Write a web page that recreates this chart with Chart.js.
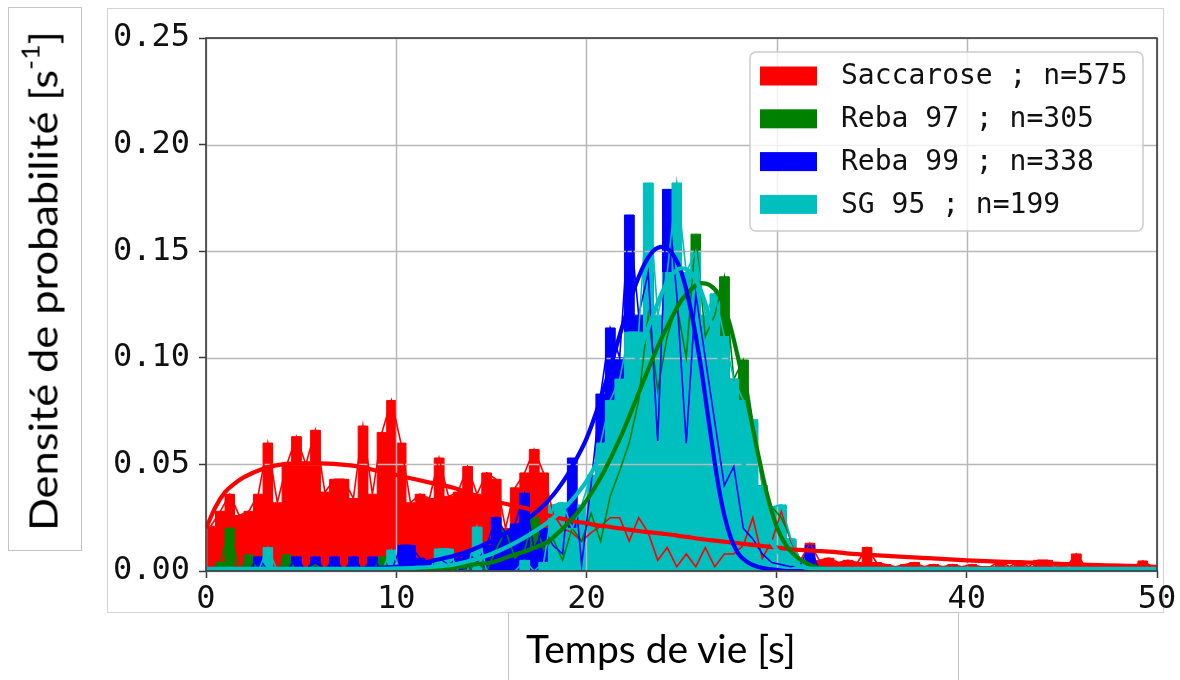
<!DOCTYPE html>
<html>
<head>
<meta charset="utf-8">
<script src="https://cdn.jsdelivr.net/npm/chart.js@4.4.1/dist/chart.umd.min.js"></script>
<style>
  html, body { margin: 0; padding: 0; background: #fff; }
  #wrap { position: relative; width: 1180px; height: 680px; overflow: hidden; }
  #chart { position: absolute; left: 0; top: 0; }
  .box { position: absolute; box-sizing: border-box; pointer-events: none; }
  #figframe { left: 107px; top: 8px; width: 1057px; height: 605px; border: 1px solid #d4d4d4; }
  #ylabbox { left: 8px; top: 7px; width: 74px; height: 544px; border: 1px solid #c4c4c4; }
  #xlabbox { left: 508px; top: 612px; width: 451px; height: 70px; border: 1px solid #c4c4c4; border-bottom: none; }
  .axlabel { position: absolute; font-family: Lato, "Open Sans", sans-serif; font-size: 39px; line-height: 1; color: #000; white-space: nowrap; }
  .axlabel sup { font-size: 0.62em; vertical-align: 0.75em; line-height: 0; }
  #ylab { left: 43px; top: 281px; transform: translate(-50%, -50%) rotate(-90deg) scaleX(1.11); }
  #xlab { left: 526px; top: 629px; }
</style>
</head>
<body>
<div id="wrap">
  <div class="box" id="figframe"></div>
  <div class="box" id="ylabbox"></div>
  <div class="box" id="xlabbox"></div>
  <canvas id="chart" width="1180" height="680"></canvas>
  <div class="axlabel" id="ylab">Densité de probabilité [s<sup>-1</sup>]</div>
  <div class="axlabel" id="xlab">Temps de vie [s]</div>
</div>
<script>
// Histogram bin width (s); every series is binned from t = 0
const binWidth = 0.5;

const seriesNames = ['Saccarose', 'Reba 97', 'Reba 99', 'SG 95'];
const seriesCounts = [575, 305, 338, 199];
const seriesColors = ['#ff0000', '#008000', '#0000ff', '#00bfbf'];

// Probability density per bin (s^-1)
const saccaroseHist = [
  0.021, 0.028, 0.036, 0.026, 0.028, 0.036, 0.060, 0.032, 0.050, 0.063,
  0.050, 0.066, 0.037, 0.043, 0.043, 0.034, 0.068, 0.036, 0.065, 0.080,
  0.060, 0.032, 0.036, 0.034, 0.053, 0.035, 0.037, 0.049, 0.036, 0.046,
  0.043, 0.020, 0.039, 0.046, 0.057, 0.046, 0.027, 0.020, 0.018, 0.014,
  0.018, 0.021, 0.025, 0.025, 0.014, 0.025, 0.018, 0.005, 0.011, 0.002,
  0.008, 0.002, 0.011, 0.002, 0.008, 0.008, 0.012, 0.025, 0.006, 0.014,
  0.028, 0.014, 0.005, 0.013, 0.005, 0.006, 0.004, 0.005, 0.004, 0.011,
  0.004, 0.003, 0.002, 0.003, 0.004, 0.002, 0.003, 0.002, 0.003, 0.002,
  0.003, 0.002, 0.002, 0.0047, 0.002, 0.0047, 0.002, 0.005, 0.005, 0.002,
  0.002, 0.008, 0.002, 0.002, 0.0015, 0.002, 0.0015, 0.002, 0.0047, 0.002
];
const reba97Hist = [
  0, 0.004, 0.020, 0, 0.0075, 0, 0, 0, 0.0075, 0,
  0, 0.003, 0, 0, 0, 0, 0, 0, 0.0066, 0,
  0, 0, 0, 0, 0.003, 0, 0.003, 0, 0.004, 0,
  0.010, 0.019, 0.006, 0.010, 0.025, 0.010, 0.015, 0.005, 0.020, 0.014,
  0.027, 0.014, 0.035, 0.047, 0.060, 0.080, 0.120, 0.085, 0.110, 0.125,
  0.100, 0.158, 0.110, 0.120, 0.138, 0.090, 0.099, 0.070, 0.040, 0.030,
  0.025, 0.015, 0.005, 0.003, 0.002, 0
];
const reba99Hist = [
  0, 0, 0, 0, 0, 0.0066, 0, 0, 0, 0.0066,
  0, 0.0066, 0, 0.0066, 0, 0.0066, 0, 0.0066, 0, 0,
  0.012, 0.012, 0.006, 0.003, 0.006, 0.003, 0.006, 0.009, 0.004, 0.012,
  0.025, 0.018, 0.022, 0.0365, 0.010, 0.020, 0.012, 0.008, 0.053, 0.003,
  0.041, 0.083, 0.114, 0.100, 0.167, 0.120, 0.140, 0.061, 0.179, 0.130,
  0.060, 0.130, 0.100, 0.070, 0.040, 0.049, 0.020, 0.015, 0.008, 0.004,
  0.003, 0.002, 0.003, 0.012, 0, 0
];
const sg95Hist = [
  0, 0, 0, 0, 0, 0, 0.011, 0, 0, 0,
  0, 0, 0, 0, 0, 0, 0, 0, 0, 0.0098,
  0, 0, 0, 0, 0.0103, 0.0103, 0, 0, 0.0206, 0,
  0, 0, 0, 0.005, 0, 0.004, 0.031, 0.032, 0.020, 0.031,
  0.045, 0.060, 0.080, 0.090, 0.112, 0.112, 0.182, 0.120, 0.140, 0.182,
  0.140, 0.150, 0.120, 0.130, 0.110, 0.090, 0.080, 0.071, 0.040, 0.030,
  0.031, 0.015, 0.005, 0, 0, 0
];

// Fitted density curves, sampled at fitTimes (s)
const fitTimes = [
  0, 0.5, 1, 1.5, 2, 3, 4, 5, 6, 7, 8, 9, 10, 11, 12, 13, 14, 15, 16, 17, 18,
  19, 19.5, 20, 20.5, 21, 21.5, 22, 22.5, 23, 23.5, 24, 24.5, 25, 25.5, 26, 26.5,
  27, 27.5, 28, 28.5, 29, 29.5, 30, 30.5, 31, 32, 33, 34, 36, 38, 40, 42, 44, 46, 48, 50
];
const saccaroseFit = [
  0.020, 0.030, 0.037, 0.041, 0.044, 0.048, 0.050, 0.0505, 0.0505, 0.050, 0.049, 0.047, 0.045, 0.043, 0.041, 0.039, 0.036, 0.033, 0.031, 0.029, 0.026,
  0.024, 0.023, 0.0225, 0.0215, 0.021, 0.0203, 0.0197, 0.019, 0.0185, 0.018, 0.0175, 0.017, 0.0163, 0.0157, 0.015, 0.0145,
  0.014, 0.0135, 0.013, 0.0125, 0.012, 0.0115, 0.011, 0.0105, 0.010, 0.0095, 0.009, 0.008, 0.007, 0.006, 0.005, 0.0043, 0.0037, 0.003, 0.0025, 0.002
];
const reba97Fit = [
  0, 0, 0, 0, 0, 0, 0, 0, 0, 0, 0, 0, 0.0003, 0.0005, 0.001, 0.0015, 0.003, 0.004, 0.007, 0.010, 0.014,
  0.022, 0.027, 0.033, 0.040, 0.048, 0.057, 0.067, 0.078, 0.089, 0.100, 0.110, 0.119, 0.127, 0.132, 0.135, 0.134,
  0.129, 0.117, 0.099, 0.078, 0.056, 0.036, 0.021, 0.012, 0.007, 0.002, 0.0005, 0, 0, 0, 0, 0, 0, 0, 0, 0
];
const reba99Fit = [
  0, 0, 0, 0, 0, 0, 0.0002, 0.0003, 0.0005, 0.0007, 0.001, 0.0015, 0.002, 0.003, 0.005, 0.007, 0.010, 0.014, 0.019, 0.025, 0.033,
  0.045, 0.053, 0.062, 0.074, 0.088, 0.103, 0.118, 0.132, 0.143, 0.150, 0.152, 0.149, 0.140, 0.122, 0.097, 0.066,
  0.037, 0.018, 0.008, 0.004, 0.002, 0.001, 0.0005, 0, 0, 0, 0, 0, 0, 0, 0, 0, 0, 0, 0, 0
];
const sg95Fit = [
  0.001, 0.001, 0.001, 0.001, 0.001, 0.001, 0.001, 0.001, 0.001, 0.001, 0.001, 0.001, 0.0012, 0.0015, 0.002, 0.003, 0.005, 0.008, 0.012, 0.017, 0.023,
  0.031, 0.036, 0.042, 0.050, 0.059, 0.070, 0.082, 0.095, 0.108, 0.120, 0.131, 0.139, 0.142, 0.140, 0.132, 0.118,
  0.100, 0.080, 0.060, 0.042, 0.027, 0.017, 0.010, 0.006, 0.003, 0.001, 0.001, 0.001, 0.001, 0.001, 0.001, 0.001, 0.001, 0.001, 0.001, 0.001
];

const xTicks = [0, 10, 20, 30, 40, 50];
const yTicks = [0, 0.05, 0.10, 0.15, 0.20, 0.25];

const histograms = [saccaroseHist, reba97Hist, reba99Hist, sg95Hist];
const fits = [saccaroseFit, reba97Fit, reba99Fit, sg95Fit];

// Filled histogram outline: two corners per bin, closed to zero at both ends
function stepOutline(values) {
  const pts = [{ x: 0, y: 0 }];
  values.forEach((v, i) => {
    const left = i * binWidth;
    pts.push({ x: left, y: v }, { x: left + binWidth, y: v });
  });
  pts.push({ x: values.length * binWidth, y: 0 });
  return pts;
}
// Frequency polygon through bin centres
function centrePolygon(values) {
  return values.map((v, i) => ({ x: (i + 0.5) * binWidth, y: v }));
}
function fitPoints(values) {
  return fitTimes.map((t, i) => ({ x: t, y: values[i] }));
}

const datasets = [];
histograms.forEach((h, k) => datasets.push({
  label: seriesNames[k] + ' hist', data: stepOutline(h),
  borderColor: seriesColors[k], backgroundColor: seriesColors[k], borderWidth: 1,
  fill: 'origin', pointRadius: 0, tension: 0, order: 40 - k
}));
histograms.forEach((h, k) => datasets.push({
  label: seriesNames[k] + ' polygon', data: centrePolygon(h),
  borderColor: seriesColors[k], borderWidth: 1.6, fill: false, pointRadius: 0, tension: 0, order: 30 - k
}));
fits.forEach((f, k) => datasets.push({
  label: seriesNames[k] + ' fit', data: fitPoints(f),
  borderColor: seriesColors[k], borderWidth: 4.2, fill: false, pointRadius: 0,
  cubicInterpolationMode: 'monotone', order: 20 - k
}));

// Grid sits above the filled histograms but below every line
const LAST_FILL_INDEX = histograms.length - 1;
const gridAboveFills = {
  id: 'gridAboveFills',
  afterDatasetDraw(chart, args) {
    if (args.index !== LAST_FILL_INDEX) return;
    const { ctx, chartArea: a, scales } = chart;
    ctx.save();
    ctx.strokeStyle = '#b8b8b8';
    ctx.lineWidth = 1.5;
    ctx.beginPath();
    xTicks.forEach(v => { const px = Math.round(scales.x.getPixelForValue(v)) + 0.5; ctx.moveTo(px, a.top); ctx.lineTo(px, a.bottom); });
    yTicks.forEach(v => { const py = Math.round(scales.y.getPixelForValue(v)) + 0.5; ctx.moveTo(a.left, py); ctx.lineTo(a.right, py); });
    ctx.stroke();
    ctx.restore();
  }
};

// Axes frame on all four sides
const axesFrame = {
  id: 'axesFrame',
  afterDatasetsDraw(chart) {
    const { ctx, chartArea: a } = chart;
    ctx.save();
    ctx.strokeStyle = '#3a3a3a';
    ctx.lineWidth = 1.6;
    ctx.strokeRect(a.left, a.top, a.right - a.left, a.bottom - a.top);
    ctx.restore();
  }
};

// Legend box in the upper right of the plot
const cornerLegend = {
  id: 'cornerLegend',
  afterDraw(chart) {
    const { ctx, chartArea: a } = chart;
    const w = 393, h = 179;
    const x0 = a.right - 14 - w, y0 = a.top + 14;
    ctx.save();
    ctx.beginPath();
    ctx.roundRect(x0, y0, w, h, 6);
    ctx.fillStyle = 'rgba(255,255,255,0.8)';
    ctx.fill();
    ctx.strokeStyle = '#cccccc';
    ctx.lineWidth = 1.5;
    ctx.stroke();
    ctx.font = '28px "DejaVu Sans Mono"';
    ctx.textBaseline = 'middle';
    seriesNames.forEach((name, k) => {
      const cy = y0 + 24 + k * 42.8;
      ctx.fillStyle = seriesColors[k];
      ctx.fillRect(x0 + 10, cy - 9.5, 57, 19);
      ctx.fillStyle = '#111';
      ctx.fillText(name + ' ; n=' + seriesCounts[k], x0 + 91, cy + 1);
    });
    ctx.restore();
  }
};

const tickFont = { family: 'DejaVu Sans Mono', size: 32 };

new Chart(document.getElementById('chart'), {
  type: 'line',
  data: { datasets },
  options: {
    responsive: false,
    animation: false,
    devicePixelRatio: 1,
    layout: { padding: { top: 38, right: 23, left: 0, bottom: 0 } },
    plugins: { legend: { display: false }, tooltip: { enabled: false } },
    scales: {
      x: {
        type: 'linear', min: 0, max: 50,
        afterBuildTicks: s => { s.ticks = xTicks.map(v => ({ value: v })); },
        afterFit: s => { s.height = 109; },
        ticks: { font: tickFont, color: '#111', padding: 2, maxRotation: 0, autoSkip: false },
        grid: { drawOnChartArea: false, drawTicks: true, tickLength: 7, tickColor: '#3a3a3a', tickWidth: 1.5 },
        border: { display: false }
      },
      y: {
        type: 'linear', min: 0, max: 0.25,
        afterBuildTicks: s => { s.ticks = yTicks.map(v => ({ value: v })); },
        afterFit: s => { s.width = 206; },
        ticks: { font: tickFont, color: '#111', padding: 9, callback: v => Number(v).toFixed(2) },
        grid: { drawOnChartArea: false, drawTicks: true, tickLength: 7, tickColor: '#3a3a3a', tickWidth: 1.5 },
        border: { display: false }
      }
    }
  },
  plugins: [gridAboveFills, axesFrame, cornerLegend]
});
</script>
</body>
</html>
